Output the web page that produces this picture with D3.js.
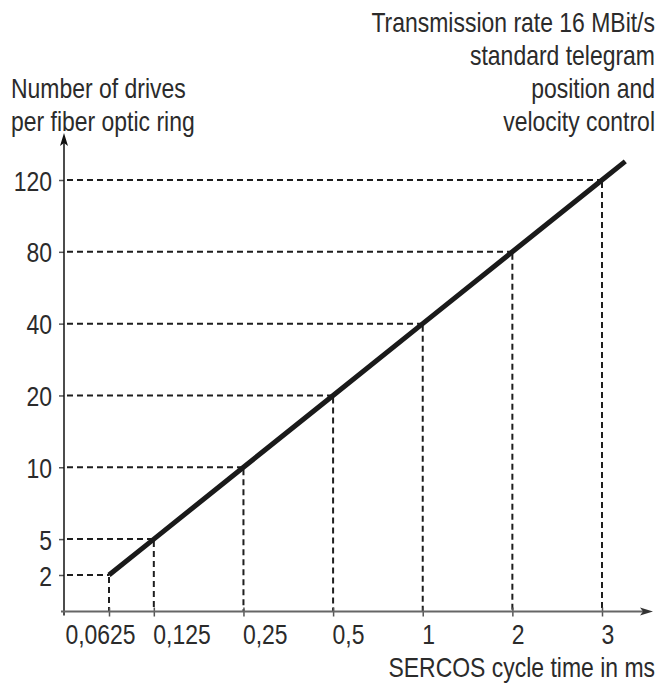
<!DOCTYPE html>
<html lang="en">
<head>
	<meta charset="UTF-8">
	<title>SERCOS drives per ring</title>
	<script src="https://cdn.jsdelivr.net/npm/d3@7/dist/d3.min.js"></script>
	<style>
		body{margin:0;background:#fff;}
		text{font-family:"Liberation Sans",Arial,sans-serif;fill:#2b2b2b;}
	</style>
</head>
<body>
</body>
<script type="text/javascript">
// data
var cycleTimes = ["0,0625","0,125","0,25","0,5","1","2","3"];   // ms
var drives = [2,5,10,20,40,80,120];                                // drives per ring
var titleLines = ["Transmission rate 16 MBit/s","standard telegram","position and","velocity control"];
var yTitleLines = ["Number of drives","per fiber optic ring"];
var xTitle = "SERCOS cycle time in ms";

var width = 672, height = 688;
var fs = 28;
var sq = 0.82;
var svg = d3.select("body").append("svg").attr("width",width).attr("height",height);

// squeeze text horizontally (narrow font look)
function narrow(sel){
	sel.each(function(){
		var t = d3.select(this);
		var x0 = +t.attr("x") || 0;
		t.attr("x",x0/sq).attr("transform","scale("+sq+",1)");
	});
}

// both axes: first step is a half step, then equal steps
function slot(i){ return i === 0 ? 0 : i - 0.5; }
var xs = d3.scaleLinear().domain([0,5.5]).range([109,602]);
var ys = d3.scaleLinear().domain([0,5.5]).range([575,180]);
var x = d3.scaleOrdinal().domain(cycleTimes).range(cycleTimes.map(function(d,i){return xs(slot(i));}));
var y = d3.scaleOrdinal().domain(drives).range(drives.map(function(d,i){return ys(slot(i));}));

var ax0 = 64, ay0 = 611.5;

//dashed guides
var pts = drives.map(function(d,i){ return {x:x(cycleTimes[i]), y:y(d)}; });
var guides = svg.append("g").attr("stroke","#1e1e1e").attr("stroke-width",2).attr("stroke-dasharray","6,4");
guides.selectAll(".h").data(pts).enter().append("line")
	.attr("x1",ax0+3).attr("x2",function(d){return d.x;})
	.attr("y1",function(d){return d.y;}).attr("y2",function(d){return d.y;});
guides.selectAll(".v").data(pts).enter().append("line")
	.attr("x1",function(d){return d.x;}).attr("x2",function(d){return d.x;})
	.attr("y1",function(d){return d.y+2;}).attr("y2",ay0);

//axes
var xAxis = d3.axisBottom(x).tickSize(5).tickPadding(7);
var gx = svg.append("g").attr("transform","translate(0,"+ay0+")").call(xAxis);
gx.select(".domain").remove();
gx.selectAll(".tick line").attr("stroke","#555").attr("stroke-width",1.5).attr("y1",-4);
gx.selectAll(".tick text").attr("font-size",fs).attr("dy","0.72em").attr("fill","#2b2b2b").style("font-family",null)
	.attr("text-anchor",function(d,i){return i === 0 ? "middle" : "start";})
	.attr("x",function(d,i){return i === 0 ? -9 : -1;})
	.call(narrow);

var yAxis = d3.axisLeft(y).tickSize(5).tickPadding(7);
var gy = svg.append("g").attr("transform","translate("+ax0+",0)").call(yAxis);
gy.select(".domain").remove();
gy.selectAll(".tick line").attr("stroke","#555").attr("stroke-width",1.5);
gy.selectAll(".tick text").attr("font-size",fs).attr("dy","0.36em").attr("fill","#2b2b2b").style("font-family",null).call(narrow);

// axis lines with arrows
svg.append("line").attr("x1",ax0).attr("y1",ay0+4).attr("x2",ax0).attr("y2",142)
	.attr("stroke","#111").attr("stroke-width",1.5);
svg.append("path").attr("d","M"+ax0+",133 L"+(ax0-4)+",146 L"+ax0+",143 L"+(ax0+4)+",146 Z").attr("fill","#111");
svg.append("line").attr("x1",ax0-3).attr("y1",ay0).attr("x2",644).attr("y2",ay0)
	.attr("stroke","#666").attr("stroke-width",2);
svg.append("path").attr("d","M653,"+ay0+" L640,"+(ay0-4)+" L643,"+ay0+" L640,"+(ay0+4)+" Z").attr("fill","#333");

// main line, extended a little past the last point
var over = 0.26;
var linePts = pts.slice();
var a = pts[pts.length-2], b = pts[pts.length-1];
var k = over / (slot(pts.length-1) - slot(pts.length-2));
linePts.push({x:b.x+(b.x-a.x)*k, y:b.y+(b.y-a.y)*k});
svg.append("path").datum(linePts)
	.attr("d",d3.line().x(function(d){return d.x;}).y(function(d){return d.y;}))
	.attr("fill","none").attr("stroke","#1a1a1a").attr("stroke-width",5);

//texts
svg.selectAll(".title").data(titleLines).enter().append("text")
	.attr("x",655).attr("y",function(d,i){return 32+i*33;})
	.attr("text-anchor","end").attr("font-size",fs).text(function(d){return d;}).call(narrow);
svg.selectAll(".ytitle").data(yTitleLines).enter().append("text")
	.attr("x",11).attr("y",function(d,i){return 98+i*33;})
	.attr("font-size",fs).text(function(d){return d;}).call(narrow);
svg.append("text").attr("x",655).attr("y",677).attr("text-anchor","end")
	.attr("font-size",fs).text(xTitle).call(narrow);
</script>
</html>
